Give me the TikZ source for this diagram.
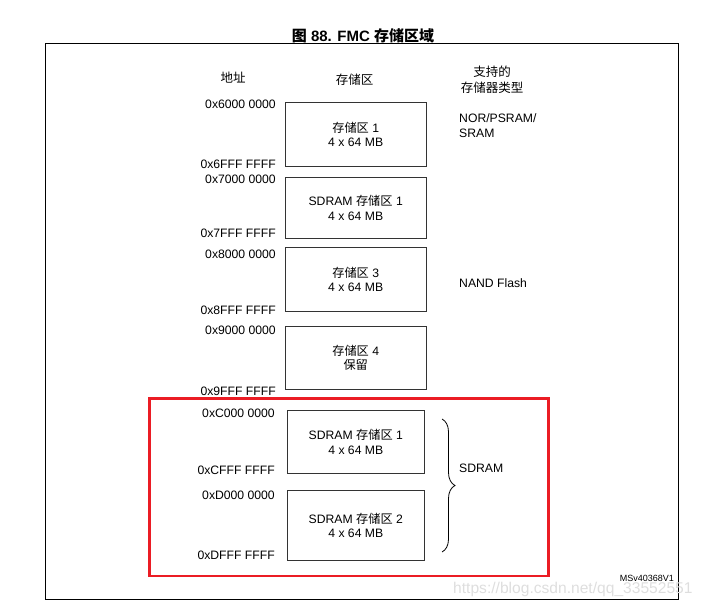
\documentclass[tikz,border=0pt]{standalone}
\usepackage{fontspec}
\setmainfont{Liberation Sans}
\newfontfamily\cjk{Noto Sans CJK SC}
\usetikzlibrary{decorations.pathreplacing}
\definecolor{hlred}{RGB}{235,28,36}
\begin{document}
\begin{tikzpicture}[x=1pt,y=-1pt,
  memBox/.style={draw=black!80, line width=1pt, inner sep=0pt, align=center,
    font=\fontsize{12.2}{14.5}\selectfont},
  addr/.style={anchor=east, inner sep=0pt, font=\fontsize{12.2}{14}\selectfont},
  hdr/.style={inner sep=0pt, align=center, font=\cjk\fontsize{12.5}{16}\selectfont},
  typ/.style={anchor=west, inner sep=0pt, align=left, font=\fontsize{12.2}{15}\selectfont}]
\useasboundingbox (0,0) rectangle (703,607);
% title and frame
\node[inner sep=0pt, font=\bfseries\fontsize{15}{18}\selectfont] (title) at (363,35.7) {{\cjk 图} 88. FMC {\cjk 存储区域}};
\draw[line width=1.3pt] (45.3,43.3) rectangle (678.7,599.3);
% headers
\node[hdr] (h1) at (233,78) {地址};
\node[hdr] (h2) at (354.5,80) {存储区};
\node[hdr] (h3) at (492,80) {支持的\\存储器类型};
% boxes
\node[memBox, minimum width=140.7pt, minimum height=63.7pt] (b1) at (355.7,134.2) {{\cjk 存储区} 1\\4 x 64 MB};
\node[memBox, minimum width=140.7pt, minimum height=60.8pt] (b2) at (355.7,207.9) {SDRAM {\cjk 存储区} 1\\4 x 64 MB};
\node[memBox, minimum width=140.7pt, minimum height=64.4pt] (b3) at (355.7,279.5) {{\cjk 存储区} 3\\4 x 64 MB};
\node[memBox, minimum width=140.7pt, minimum height=62.6pt] (b4) at (355.7,358) {{\cjk 存储区} 4\\{\cjk 保留}};
\node[memBox, minimum width=137pt, minimum height=63pt] (b5) at (355.8,441.8) {SDRAM {\cjk 存储区} 1\\4 x 64 MB};
\node[memBox, minimum width=137pt, minimum height=69.3pt] (b6) at (355.8,525.4) {SDRAM {\cjk 存储区} 2\\4 x 64 MB};
% addresses
\node[addr] (a1) at (276,104) {0x6000 0000};
\node[addr] (a2) at (276,164) {0x6FFF FFFF};
\node[addr] (a3) at (276,179.3) {0x7000 0000};
\node[addr] (a4) at (276,233.3) {0x7FFF FFFF};
\node[addr] (a5) at (276,254) {0x8000 0000};
\node[addr] (a6) at (276,310.7) {0x8FFF FFFF};
\node[addr] (a7) at (276,330.7) {0x9000 0000};
\node[addr] (a8) at (276,391.7) {0x9FFF FFFF};
\node[addr] (a9) at (275,413.3) {0xC000 0000};
\node[addr] (a10) at (275,470.7) {0xCFFF FFFF};
\node[addr] (a11) at (275,495) {0xD000 0000};
\node[addr] (a12) at (275,555.7) {0xDFFF FFFF};
% memory types
\node[typ] (t1) at (459,125.8) {NOR/PSRAM/\\SRAM};
\node[typ] (t2) at (459,282.7) {NAND Flash};
\node[typ] (t3) at (459,468.3) {SDRAM};
% brace
\coordinate (bt) at (442,419);
\coordinate (bb) at (442,552);
\draw[line width=0.8pt, decorate, decoration={brace, amplitude=13pt}] (bt) -- (bb);
% highlight
\draw[hlred, line width=2.5pt] (149.3,398.7) rectangle (548.7,576);
% footer
\node[anchor=east, inner sep=0pt, font=\fontsize{9}{10}\selectfont] (ref) at (674,578.7) {MSv40368V1};
\node[anchor=west, inner sep=0pt, text=black!13, font=\fontsize{15.6}{17}\selectfont] (wm) at (453,589) {https://blog.csdn.net/qq\_33552551};
\end{tikzpicture}
\end{document}
